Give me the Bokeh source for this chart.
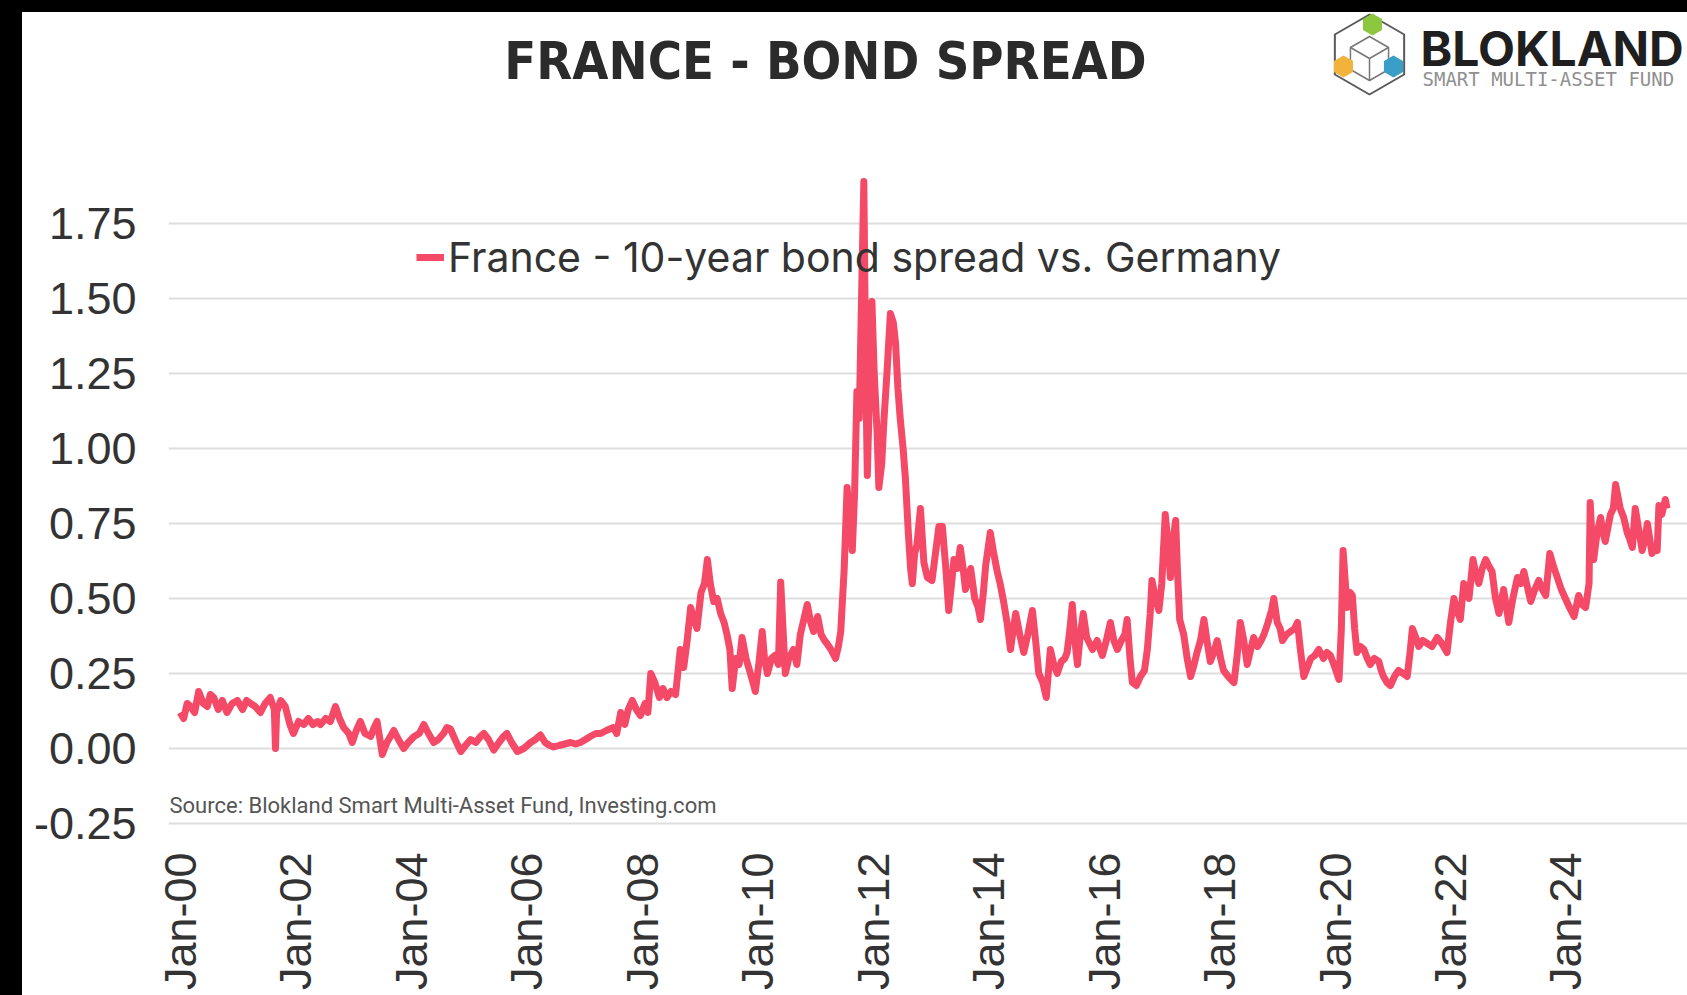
import math
from bokeh.plotting import figure
from bokeh.models import (FixedTicker, NumeralTickFormatter, Legend, LegendItem,
                          Label, Div, Range1d, ColumnDataSource)
from bokeh.layouts import column, row
from bokeh.embed import file_html
from bokeh.resources import INLINE

# ---------------- data (decimal year, spread in %-points) ----------------
years = [
    2000.00, 2000.06, 2000.12, 2000.18, 2000.25, 2000.32, 2000.40, 2000.47, 2000.52, 2000.58,
    2000.66, 2000.73, 2000.81, 2000.90, 2000.99, 2001.08, 2001.15, 2001.22, 2001.30, 2001.39,
    2001.47, 2001.56, 2001.63, 2001.65, 2001.67, 2001.74, 2001.82, 2001.90, 2001.96, 2002.05,
    2002.14, 2002.22, 2002.30, 2002.38, 2002.43, 2002.52, 2002.60, 2002.69, 2002.76, 2002.83,
    2002.92, 2002.98, 2003.05, 2003.12, 2003.20, 2003.30, 2003.36, 2003.41, 2003.46, 2003.50,
    2003.58, 2003.64, 2003.70, 2003.78, 2003.87, 2003.95, 2004.05, 2004.14, 2004.22, 2004.30,
    2004.39, 2004.47, 2004.56, 2004.62, 2004.68, 2004.76, 2004.86, 2004.94, 2005.03, 2005.12,
    2005.20, 2005.26, 2005.34, 2005.43, 2005.52, 2005.60, 2005.66, 2005.74, 2005.84, 2005.95,
    2006.07, 2006.15, 2006.24, 2006.32, 2006.40, 2006.47, 2006.56, 2006.66, 2006.76, 2006.85,
    2006.93, 2007.02, 2007.10, 2007.20, 2007.28, 2007.38, 2007.50, 2007.56, 2007.63, 2007.70,
    2007.76, 2007.83, 2007.90, 2007.97, 2008.05, 2008.10, 2008.15, 2008.22, 2008.30, 2008.36,
    2008.43, 2008.50, 2008.58, 2008.66, 2008.72, 2008.78, 2008.84, 2008.90, 2008.95, 2009.02,
    2009.08, 2009.13, 2009.18, 2009.24, 2009.30, 2009.36, 2009.42, 2009.47, 2009.52, 2009.56,
    2009.62, 2009.68, 2009.73, 2009.80, 2009.86, 2009.92, 2009.96, 2010.02, 2010.08, 2010.12,
    2010.17, 2010.24, 2010.30, 2010.36, 2010.40, 2010.44, 2010.48, 2010.54, 2010.62, 2010.68,
    2010.74, 2010.80, 2010.86, 2010.92, 2010.97, 2011.04, 2011.10, 2011.16, 2011.20, 2011.27,
    2011.35, 2011.40, 2011.44, 2011.50, 2011.55, 2011.60, 2011.64, 2011.68, 2011.72, 2011.76,
    2011.80, 2011.84, 2011.87, 2011.90, 2011.94, 2011.98, 2012.02, 2012.07, 2012.10, 2012.15,
    2012.19, 2012.24, 2012.30, 2012.35, 2012.39, 2012.43, 2012.47, 2012.52, 2012.56, 2012.61,
    2012.65, 2012.68, 2012.72, 2012.76, 2012.82, 2012.88, 2012.94, 2013.02, 2013.08, 2013.14,
    2013.20, 2013.26, 2013.31, 2013.36, 2013.40, 2013.46, 2013.51, 2013.56, 2013.60, 2013.65,
    2013.69, 2013.76, 2013.82, 2013.86, 2013.91, 2013.95, 2014.03, 2014.09, 2014.15, 2014.20,
    2014.26, 2014.32, 2014.38, 2014.43, 2014.47, 2014.54, 2014.61, 2014.68, 2014.76, 2014.82,
    2014.87, 2014.94, 2015.00, 2015.04, 2015.07, 2015.13, 2015.19, 2015.26, 2015.32, 2015.36,
    2015.41, 2015.45, 2015.50, 2015.54, 2015.59, 2015.64, 2015.70, 2015.75, 2015.80, 2015.88,
    2015.97, 2016.04, 2016.11, 2016.17, 2016.23, 2016.30, 2016.36, 2016.40, 2016.45, 2016.49,
    2016.56, 2016.63, 2016.70, 2016.75, 2016.80, 2016.83, 2016.89, 2016.95, 2017.00, 2017.06,
    2017.10, 2017.15, 2017.20, 2017.24, 2017.27, 2017.31, 2017.38, 2017.44, 2017.50, 2017.56,
    2017.61, 2017.67, 2017.73, 2017.79, 2017.84, 2017.90, 2017.96, 2018.02, 2018.07, 2018.15,
    2018.25, 2018.30, 2018.36, 2018.42, 2018.48, 2018.54, 2018.59, 2018.66, 2018.72, 2018.77,
    2018.84, 2018.90, 2018.94, 2019.00, 2019.05, 2019.09, 2019.16, 2019.23, 2019.30, 2019.35,
    2019.40, 2019.46, 2019.52, 2019.58, 2019.65, 2019.72, 2019.80, 2019.86, 2019.92, 2019.98,
    2020.07, 2020.11, 2020.14, 2020.18, 2020.21, 2020.26, 2020.30, 2020.34, 2020.38, 2020.44,
    2020.50, 2020.56, 2020.61, 2020.68, 2020.76, 2020.80, 2020.84, 2020.90, 2020.96, 2021.03,
    2021.10, 2021.18, 2021.25, 2021.30, 2021.34, 2021.40, 2021.45, 2021.52, 2021.60, 2021.68,
    2021.77, 2021.85, 2021.94, 2022.00, 2022.06, 2022.11, 2022.17, 2022.23, 2022.28, 2022.32,
    2022.39, 2022.44, 2022.49, 2022.55, 2022.61, 2022.66, 2022.72, 2022.78, 2022.84, 2022.92,
    2023.01, 2023.08, 2023.16, 2023.22, 2023.27, 2023.33, 2023.39, 2023.46, 2023.53, 2023.59,
    2023.65, 2023.72, 2023.78, 2023.85, 2023.92, 2023.99, 2024.06, 2024.14, 2024.22, 2024.28,
    2024.34, 2024.40, 2024.42, 2024.45, 2024.48, 2024.54, 2024.60, 2024.64, 2024.68, 2024.73,
    2024.77, 2024.82, 2024.86, 2024.90, 2024.94, 2025.00, 2025.06, 2025.10, 2025.15, 2025.20,
    2025.26, 2025.32, 2025.37, 2025.41, 2025.45, 2025.49, 2025.54, 2025.58, 2025.61, 2025.66,
    2025.72, 2025.75,
]
spread = [
    0.12, 0.10, 0.15, 0.14, 0.12, 0.19, 0.15, 0.14, 0.18, 0.17,
    0.13, 0.16, 0.12, 0.15, 0.16, 0.13, 0.16, 0.15, 0.14, 0.12,
    0.15, 0.17, 0.13, 0.00, 0.12, 0.16, 0.14, 0.08, 0.05, 0.09,
    0.08, 0.10, 0.08, 0.09, 0.08, 0.10, 0.09, 0.14, 0.10, 0.07,
    0.05, 0.02, 0.06, 0.09, 0.05, 0.04, 0.07, 0.09, 0.03, -0.02,
    0.02, 0.04, 0.06, 0.03, 0.00, 0.02, 0.04, 0.05, 0.08, 0.05,
    0.02, 0.03, 0.05, 0.07, 0.065, 0.03, -0.01, 0.01, 0.03, 0.02,
    0.04, 0.05, 0.03, -0.005, 0.02, 0.04, 0.05, 0.02, -0.01, 0.00,
    0.02, 0.03, 0.045, 0.02, 0.01, 0.005, 0.01, 0.015, 0.02, 0.015,
    0.02, 0.03, 0.04, 0.05, 0.05, 0.06, 0.07, 0.05, 0.12, 0.08,
    0.13, 0.16, 0.13, 0.11, 0.15, 0.12, 0.25, 0.22, 0.17, 0.20,
    0.17, 0.19, 0.18, 0.33, 0.27, 0.36, 0.47, 0.43, 0.40, 0.52,
    0.55, 0.63, 0.55, 0.49, 0.50, 0.45, 0.42, 0.38, 0.33, 0.20,
    0.30, 0.28, 0.37, 0.30, 0.26, 0.22, 0.19, 0.28, 0.39, 0.30,
    0.25, 0.30, 0.31, 0.28, 0.555, 0.40, 0.25, 0.30, 0.33, 0.28,
    0.38, 0.43, 0.48, 0.42, 0.39, 0.44, 0.38, 0.36, 0.35, 0.33,
    0.30, 0.34, 0.39, 0.60, 0.87, 0.75, 0.66, 0.85, 1.19, 1.10,
    1.50, 1.89, 1.30, 0.91, 1.20, 1.49, 1.25, 1.05, 0.87, 0.95,
    1.10, 1.25, 1.45, 1.42, 1.35, 1.20, 1.10, 1.00, 0.90, 0.72,
    0.60, 0.55, 0.65, 0.68, 0.80, 0.62, 0.57, 0.56, 0.65, 0.74,
    0.74, 0.60, 0.46, 0.55, 0.63, 0.60, 0.67, 0.60, 0.53, 0.57,
    0.60, 0.50, 0.47, 0.43, 0.52, 0.61, 0.72, 0.65, 0.59, 0.55,
    0.49, 0.42, 0.33, 0.40, 0.45, 0.38, 0.32, 0.38, 0.46, 0.35,
    0.25, 0.22, 0.17, 0.26, 0.33, 0.28, 0.25, 0.29, 0.30, 0.32,
    0.40, 0.48, 0.35, 0.28, 0.38, 0.45, 0.37, 0.35, 0.33, 0.36,
    0.31, 0.36, 0.42, 0.36, 0.33, 0.36, 0.38, 0.43, 0.30, 0.22,
    0.21, 0.24, 0.26, 0.33, 0.45, 0.56, 0.50, 0.46, 0.55, 0.78,
    0.70, 0.57, 0.70, 0.76, 0.60, 0.43, 0.38, 0.30, 0.24, 0.28,
    0.32, 0.36, 0.43, 0.35, 0.29, 0.32, 0.36, 0.30, 0.26, 0.24,
    0.22, 0.30, 0.42, 0.36, 0.28, 0.33, 0.37, 0.34, 0.36, 0.38,
    0.42, 0.46, 0.50, 0.42, 0.40, 0.36, 0.38, 0.39, 0.40, 0.42,
    0.33, 0.24, 0.27, 0.30, 0.31, 0.33, 0.30, 0.32, 0.31, 0.28,
    0.23, 0.40, 0.66, 0.55, 0.47, 0.52, 0.51, 0.40, 0.32, 0.34,
    0.33, 0.30, 0.28, 0.30, 0.29, 0.26, 0.24, 0.22, 0.21, 0.24,
    0.26, 0.25, 0.24, 0.32, 0.40, 0.37, 0.34, 0.36, 0.35, 0.34,
    0.37, 0.35, 0.32, 0.42, 0.50, 0.46, 0.43, 0.55, 0.52, 0.50,
    0.63, 0.58, 0.55, 0.60, 0.63, 0.61, 0.59, 0.50, 0.45, 0.53,
    0.42, 0.50, 0.57, 0.55, 0.59, 0.54, 0.49, 0.53, 0.56, 0.53,
    0.51, 0.65, 0.61, 0.57, 0.53, 0.50, 0.47, 0.44, 0.51, 0.48,
    0.47, 0.55, 0.82, 0.70, 0.63, 0.72, 0.77, 0.72, 0.69, 0.74,
    0.78, 0.80, 0.88, 0.84, 0.80, 0.77, 0.72, 0.70, 0.67, 0.80,
    0.73, 0.66, 0.70, 0.75, 0.70, 0.65, 0.67, 0.66, 0.81, 0.78,
    0.83, 0.80,
]

x_ticks = [2000, 2002, 2004, 2006, 2008, 2010, 2012, 2014, 2016, 2018, 2020, 2022, 2024]
x_tick_labels = ["Jan-00", "Jan-02", "Jan-04", "Jan-06", "Jan-08", "Jan-10", "Jan-12",
                 "Jan-14", "Jan-16", "Jan-18", "Jan-20", "Jan-22", "Jan-24"]
y_ticks = [-0.25, 0.0, 0.25, 0.5, 0.75, 1.0, 1.25, 1.5, 1.75]

series_label = "France - 10-year bond spread vs. Germany"
title_text = "FRANCE - BOND SPREAD"
source_text = "Source: Blokland Smart Multi-Asset Fund, Investing.com"

# ---------------- layout constants ----------------
W, H = 1687, 995
BLACK_TOP, BLACK_LEFT = 12, 22
FRAME_L, FRAME_R, FRAME_T, FRAME_B = 168, 1687, 12, 830   # page pixels
X0_PX, PX_PER_YEAR = 179.7, 57.74                          # Jan-2000 position
Y175_PX, PX_PER_UNIT = 223.0, 300.0                        # 1.75 gridline position

x_start = 2000 + (FRAME_L - X0_PX) / PX_PER_YEAR
x_end = 2000 + (FRAME_R - X0_PX) / PX_PER_YEAR
y_end = 1.75 + (Y175_PX - FRAME_T) / PX_PER_UNIT
y_start = 1.75 - (FRAME_B - Y175_PX) / PX_PER_UNIT


def px_x(px):
    return 2000 + (px - X0_PX) / PX_PER_YEAR


def px_y(py):
    return 1.75 - (py - Y175_PX) / PX_PER_UNIT


fig_w = W - BLACK_LEFT
fig_h = H - BLACK_TOP

p = figure(width=fig_w, height=fig_h, output_backend="svg", toolbar_location=None,
           x_range=Range1d(x_start, x_end), y_range=Range1d(y_start, y_end),
           min_border_left=FRAME_L - BLACK_LEFT, min_border_right=0,
           min_border_top=0, min_border_bottom=fig_h - (FRAME_B - BLACK_TOP),
           background_fill_color="white", border_fill_color="white")
p.outline_line_color = None

# grid
p.xgrid.visible = False
p.ygrid.grid_line_color = "#DEDEDE"
p.ygrid.grid_line_width = 2
p.ygrid.ticker = FixedTicker(ticks=y_ticks)

# y axis
p.yaxis.ticker = FixedTicker(ticks=y_ticks)
p.yaxis.formatter = NumeralTickFormatter(format="0.00")
p.yaxis.axis_line_color = None
p.yaxis.major_tick_line_color = None
p.yaxis.minor_tick_line_color = None
p.yaxis.major_label_text_font = "Liberation Sans"
p.yaxis.major_label_text_font_size = "45px"
p.yaxis.major_label_text_color = "#333333"
p.yaxis.major_label_standoff = 26

# x axis
p.xaxis.ticker = FixedTicker(ticks=x_ticks)
p.xaxis.major_label_overrides = {t: lab for t, lab in zip(x_ticks, x_tick_labels)}
p.xaxis.major_label_orientation = math.pi / 2
p.xaxis.axis_line_color = None
p.xaxis.major_tick_line_color = None
p.xaxis.minor_tick_line_color = None
p.xaxis.major_label_text_font = "Liberation Sans"
p.xaxis.major_label_text_font_size = "45px"
p.xaxis.major_label_text_color = "#333333"
p.xaxis.major_label_standoff = 16

# data line
src = ColumnDataSource(dict(x=years, y=spread))
line = p.line("x", "y", source=src, line_color="#F44A68", line_width=7,
              line_join="round")

legend = Legend(items=[LegendItem(label=series_label, renderers=[line])],
                location=(248, 548), orientation="horizontal",
                glyph_width=28, glyph_height=40, label_standoff=4,
                padding=0, margin=0, border_line_color=None,
                background_fill_alpha=0,
                label_text_font="Inter", label_text_font_size="41px",
                label_text_color="#333333")
p.add_layout(legend)

# source note
p.add_layout(Label(x=px_x(169), y=px_y(805), text=source_text,
                   text_font="Roboto", text_font_size="22px",
                   text_color="#555555", text_baseline="middle", text_align="left"))

# title
p.add_layout(Label(x=px_x(825), y=px_y(60), text=title_text,
                   text_font="'DejaVu Sans Condensed', Roboto", text_font_style="bold",
                   text_font_size="52px", text_color="#2b2b2b",
                   text_align="center", text_baseline="middle"))

# logo: hexagon frame, inner cube and three coloured blocks
hx, hy = px_x(1369), px_y(54)
p.scatter(x=[hx], y=[hy], marker="hex", angle=math.pi / 2, size=80,
          fill_color=None, line_color="#5a5a5a", line_width=2)
p.scatter(x=[hx], y=[px_y(58)], marker="hex", angle=math.pi / 2, size=44,
          fill_color=None, line_color="#777777", line_width=1.5)
p.segment(x0=[hx, hx, hx], y0=[px_y(58)] * 3,
          x1=[hx, px_x(1369 - 19), px_x(1369 + 19)],
          y1=[px_y(80), px_y(47), px_y(47)],
          line_color="#777777", line_width=1.5)
p.scatter(x=[px_x(1372), px_x(1343), px_x(1393)],
          y=[px_y(24), px_y(66), px_y(66)],
          marker="hex", angle=math.pi / 2, size=22,
          fill_color=["#8DC63F", "#F2B33D", "#3A9FC6"], line_color=None)

p.add_layout(Label(x=px_x(1420), y=px_y(48), text="BLOKLAND",
                   text_font="Inter", text_font_style="bold", text_font_size="48px",
                   text_color="#1f1f1f", text_baseline="middle", text_align="left"))
p.add_layout(Label(x=px_x(1422), y=px_y(78), text="SMART MULTI-ASSET FUND",
                   text_font="DejaVu Sans Mono", text_font_size="19px",
                   text_color="#909090", text_baseline="middle", text_align="left"))

top_band = Div(text="", width=W, height=BLACK_TOP, margin=0,
               styles={"background-color": "black"})
left_band = Div(text="", width=BLACK_LEFT, height=fig_h, margin=0,
                styles={"background-color": "black"})

layout = column(top_band, row(left_band, p, spacing=0), spacing=0)

open("out.html", "w").write(file_html(layout, INLINE))
